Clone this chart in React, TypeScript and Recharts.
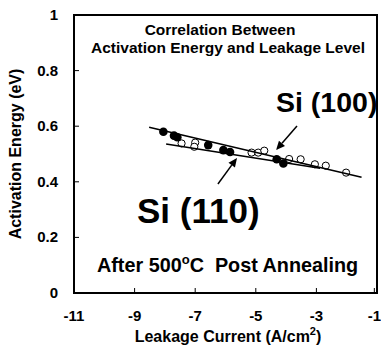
import {
  ComposedChart,
  Scatter,
  XAxis,
  YAxis,
  ReferenceArea,
  ReferenceLine,
} from 'recharts'

const FONT = "'Liberation Sans', Arial, sans-serif"

const xTicks = [-11, -9, -7, -5, -3, -1]
const yTicks = [0, 0.2, 0.4, 0.6, 0.8, 1]

// Si (110) samples: filled markers
const si110Leak = [-8.05, -7.7, -7.59, -6.57, -6.07, -5.85, -4.31, -4.09]
const si110Ea = [0.58, 0.566, 0.56, 0.532, 0.514, 0.507, 0.481, 0.466]

// Si (100) samples: open markers
const si100Leak = [-7.45, -7.0, -7.03, -5.14, -4.92, -4.72, -3.9, -3.52, -3.05, -2.69, -2.02]
const si100Ea = [0.538, 0.541, 0.526, 0.505, 0.505, 0.512, 0.482, 0.481, 0.463, 0.458, 0.433]

// the two straight fit lines
const fitUpperLeak = [-8.52, -1.51]
const fitUpperEa = [0.596, 0.416]
const fitLowerLeak = [-7.96, -2.88]
const fitLowerEa = [0.536, 0.449]

// arrows (tail -> head)
const arrow100 = [{ x: -3.64, y: 0.601 }, { x: -4.33, y: 0.514 }]
const arrow110 = [{ x: -6.25, y: 0.392 }, { x: -5.62, y: 0.486 }]

const toPoints = (xs: number[], ys: number[]) => xs.map((x, i) => ({ x, y: ys[i] }))

const si110 = toPoints(si110Leak, si110Ea)
const si100 = toPoints(si100Leak, si100Ea)
const fitUpper = toPoints(fitUpperLeak, fitUpperEa)
const fitLower = toPoints(fitLowerLeak, fitLowerEa)

function XTick({ x, y, payload }: any) {
  return (
    <g>
      <line x1={x} x2={x} y1={y} y2={y - 5} stroke="#000" strokeWidth={1} />
      <text x={x} y={y + 28} textAnchor="middle" fontFamily={FONT} fontWeight="bold" fontSize={15} fill="#000">
        {payload.value}
      </text>
    </g>
  )
}

function YTick({ x, y, payload }: any) {
  return (
    <g>
      <line x1={x} x2={x + 5} y1={y} y2={y} stroke="#000" strokeWidth={1} />
      <text x={x - 16} y={y + 5} textAnchor="end" fontFamily={FONT} fontWeight="bold" fontSize={15} fill="#000">
        {payload.value}
      </text>
    </g>
  )
}

function Arrow(props: any) {
  const { x1, y1, x2, y2 } = props
  const ang = Math.atan2(y2 - y1, x2 - x1)
  const len = 9
  const w = 4
  const bx = x2 - len * Math.cos(ang)
  const by = y2 - len * Math.sin(ang)
  const px = -Math.sin(ang) * w
  const py = Math.cos(ang) * w
  return (
    <g>
      <line x1={x1} y1={y1} x2={bx} y2={by} stroke="#000" strokeWidth={1.5} />
      <polygon points={`${x2},${y2} ${bx + px},${by + py} ${bx - px},${by - py}`} fill="#000" />
    </g>
  )
}

const noShape = () => <g />

export default function App() {
  return (
    <div style={{ position: 'absolute', left: 0, top: 0, width: 381, height: 356, background: '#fff' }}>
      <ComposedChart width={381} height={356} margin={{ top: 15, right: 4, bottom: 0, left: 0 }}>
        <XAxis
          dataKey="x"
          type="number"
          domain={[-11, -1]}
          ticks={xTicks}
          tickLine={false}
          tickSize={0}
          tickMargin={0}
          height={63}
          axisLine={{ stroke: '#000', strokeWidth: 2 }}
          tick={<XTick />}
          allowDataOverflow
        />
        <YAxis
          dataKey="y"
          type="number"
          domain={[0, 1]}
          ticks={yTicks}
          tickLine={false}
          tickSize={0}
          tickMargin={0}
          width={74}
          axisLine={{ stroke: '#000', strokeWidth: 2 }}
          tick={<YTick />}
          allowDataOverflow
        />
        <ReferenceArea x1={-11} x2={-1} y1={0} y2={1} fill="none" stroke="#000" strokeWidth={2} />
        <Scatter
          data={si100}
          isAnimationActive={false}
          shape={(p: any) => <circle cx={p.cx} cy={p.cy} r={3.6} fill="#fff" stroke="#000" strokeWidth={1} />}
        />
        <Scatter
          data={si110}
          isAnimationActive={false}
          shape={(p: any) => <circle cx={p.cx} cy={p.cy} r={4.3} fill="#000" />}
        />
        <Scatter data={fitUpper} isAnimationActive={false} line={{ stroke: '#000', strokeWidth: 1.5 }} lineType="joint" shape={noShape} />
        <Scatter data={fitLower} isAnimationActive={false} line={{ stroke: '#000', strokeWidth: 1.5 }} lineType="joint" shape={noShape} />
        <ReferenceLine segment={arrow100} ifOverflow="visible" shape={Arrow} />
        <ReferenceLine segment={arrow110} ifOverflow="visible" shape={Arrow} />
      </ComposedChart>
      <svg
        width={381}
        height={356}
        style={{ position: 'absolute', left: 0, top: 0, pointerEvents: 'none' }}
        fontFamily={FONT}
        fontWeight="bold"
        fill="#000"
      >
        <text x={220} y={35} textAnchor="middle" fontSize={15.5}>Correlation Between</text>
        <text x={228} y={53} textAnchor="middle" fontSize={15.5}>Activation Energy and Leakage Level</text>
        <text x={276} y={112} fontSize={28.5}>Si (100)</text>
        <text x={137} y={223} fontSize={35}>Si (110)</text>
        <text x={97} y={272} fontSize={19.8}>
          After 500<tspan fontSize={13} dy={-8}>o</tspan>
          <tspan dy={8}>C</tspan>
          <tspan dx={11}>Post Annealing</tspan>
        </text>
        <text x={228} y={342} textAnchor="middle" fontSize={16}>
          Leakage Current (A/cm<tspan fontSize={11} dy={-7}>2</tspan>
          <tspan dy={7}>)</tspan>
        </text>
        <text x={21} y={154} textAnchor="middle" fontSize={16} transform="rotate(-90 21 154)">
          Activation Energy (eV)
        </text>
      </svg>
    </div>
  )
}
